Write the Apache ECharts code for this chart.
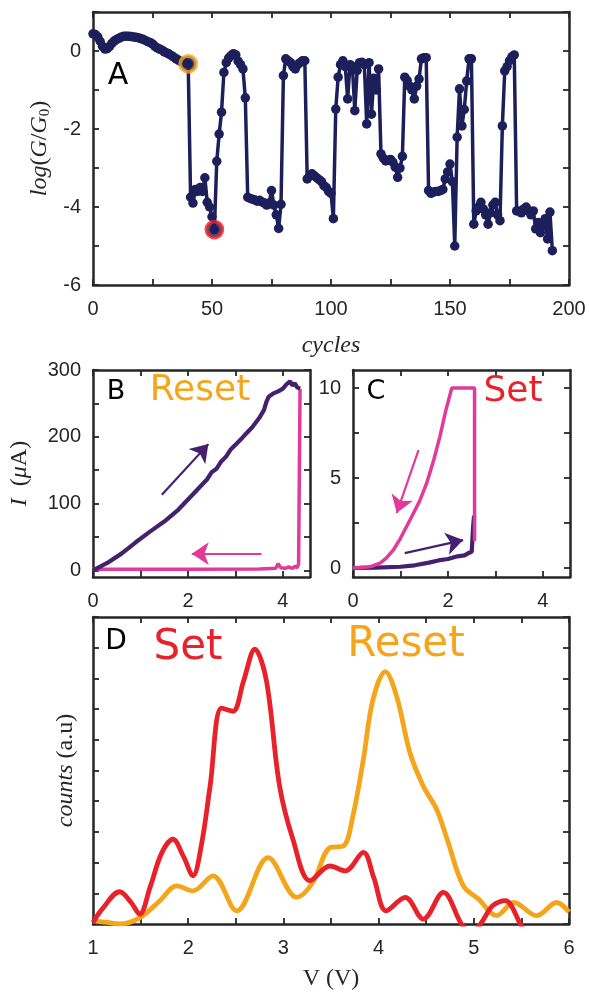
<!DOCTYPE html>
<html>
<head>
<meta charset="utf-8">
<script src="https://cdn.jsdelivr.net/npm/echarts@6/dist/echarts.min.js"></script>
<style>
  html, body { margin: 0; padding: 0; background: #fff; }
  #chart { width: 589px; height: 992px; }
</style>
</head>
<body>
<div id="chart"></div>
<script>
// ---- panel A: log(G/G0) per cycle (index = cycle) ----
const logG = [
  0.44, 0.42, 0.36, 0.25, 0.12, 0.05, 0.06, 0.12, 0.2, 0.26,
  0.3, 0.33, 0.36, 0.38, 0.38, 0.38, 0.37, 0.36, 0.35, 0.34,
  0.32, 0.3, 0.27, 0.24, 0.22, 0.18, 0.12, 0.08, 0.05, 0.02,
  -0.02, -0.05, -0.08, -0.12, -0.16, -0.2, -0.24, -0.27, -0.29, -0.31,
  -0.33, -3.75, -3.9, -3.55, -3.6, -3.5, -3.6, -3.25, -3.88, -4.0,
  -4.25, -4.58, -2.83, -2.13, -1.57, -0.55, -0.3, -0.18, -0.12, -0.07,
  -0.1, -0.26, -0.35, -0.46, -1.2, -3.75, -3.78, -3.8, -3.82, -3.85,
  -3.83, -3.87, -3.9, -3.95, -3.9, -3.58, -3.95, -4.2, -4.55, -3.93,
  -0.63, -0.2, -0.25, -0.3, -0.4, -0.46, -0.35, -0.3, -0.25, -0.25,
  -3.28, -3.2, -3.15, -3.2, -3.25, -3.3, -3.35, -3.45, -3.5, -3.6,
  -3.65, -4.3, -1.49, -0.67, -0.35, -0.25, -0.4, -1.23, -0.35, -0.4,
  -1.53, -0.5, -0.3, -0.29, -0.35, -1.87, -0.3, -1.62, -0.7, -1.0,
  -0.46, -2.64, -2.75, -2.82, -2.8, -2.78, -2.85, -2.98, -3.24, -3.0,
  -2.7, -0.67, -0.75, -0.9, -1.0, -1.23, -0.9, -0.72, -0.2, -0.17,
  -0.17, -3.58, -3.65, -3.62, -3.6, -3.6, -3.58, -3.55, -3.28, -3.1,
  -2.9, -3.35, -5.0, -2.21, -0.97, -1.92, -1.5, -0.77, -0.2, -0.2,
  -4.44, -4.1, -4.0, -3.88, -4.05, -4.2, -4.44, -4.15, -3.95, -3.88,
  -4.2, -4.35, -1.92, -0.51, -0.4, -0.25, -0.15, -0.1, -4.1, -4.1,
  -4.15, -4.05, -4.0, -4.1, -4.2, -4.1, -4.56, -4.4, -4.66, -4.5,
  -4.3, -4.82, -4.13, -5.12
];
const resetCycle = 40; // orange ring
const setCycle = 51;   // red ring

// ---- panel B: reset I-V (V, uA) ----
const resetUpV = [0, 0.3, 0.6, 0.9, 1.2, 1.5, 1.8, 2.0, 2.2, 2.4, 2.5, 2.6, 2.7, 2.8, 2.9, 3.0, 3.1, 3.2, 3.35, 3.5, 3.6, 3.65, 3.7, 3.8, 3.9, 4.0, 4.08, 4.15, 4.2, 4.25, 4.3, 4.36];
const resetUpI = [0, 11, 25, 42, 58, 73, 91, 106, 121, 136, 147, 152, 163, 170, 181, 188, 195, 203, 214, 228, 240, 252, 260, 265, 268, 272, 279, 283, 277, 280, 274, 272];
const resetDownV = [4.36, 4.33, 4.3, 4.25, 4.2, 4.12, 4.05, 3.95, 3.9, 3.85, 3.5, 2.0, 0];
const resetDownI = [272, 10, 4, 6, 3, 5, 3, 4, 10, 3, 2, 1.5, 1.5];
const arrowB = [
  { from: [1.45, 113], to: [2.43, 189], color: 'up' },
  { from: [3.55, 25], to: [2.08, 25], color: 'down' }
];

// ---- panel C: set I-V (V, uA) ----
const setUpV = [0, 0.5, 1.0, 1.3, 1.6, 1.8, 2.0, 2.2, 2.35, 2.45, 2.5, 2.53, 2.53, 2.55, 2.53];
const setUpI = [0, 0.02, 0.07, 0.15, 0.3, 0.42, 0.5, 0.65, 0.7, 0.85, 0.9, 1.0, 2.3, 2.9, 1.6];
const setDownV = [2.56, 2.56, 2.08, 1.95, 1.83, 1.7, 1.55, 1.4, 1.2, 1.0, 0.85, 0.7, 0.57, 0.4, 0.29, 0];
const setDownI = [1.5, 10, 10, 8.7, 7.3, 6.0, 4.7, 3.7, 2.67, 1.65, 1.0, 0.55, 0.27, 0.1, 0.05, 0];
const arrowC = [
  { from: [1.38, 6.55], to: [0.92, 3.05], color: 'down' },
  { from: [1.09, 0.83], to: [2.32, 1.55], color: 'up' }
];

// ---- panel D: voltage histograms ----
const histSetV = [1.0, 1.1, 1.28, 1.4, 1.49, 1.6, 1.72, 1.84, 1.95, 2.05, 2.14, 2.23, 2.35, 2.47, 2.58, 2.7, 2.82, 2.96, 3.1, 3.28, 3.49, 3.65, 3.84, 3.95, 4.08, 4.28, 4.47, 4.68, 4.87, 4.97, 5.07, 5.2, 5.33, 5.49, 5.6];
const histSetC = [0.05, 0.5, 1.05, 0.7, 0.32, 1.2, 2.3, 2.76, 2.2, 1.57, 2.6, 4.49, 7.03, 6.93, 7.9, 8.95, 7.95, 4.49, 2.76, 1.41, 1.89, 1.73, 2.33, 1.5, 0.43, 0.87, 0.16, 1.03, 0.0, -0.3, 0.0, 0.6, 0.76, 0.0, -0.6];
const histResetV = [1.0, 1.15, 1.28, 1.49, 1.7, 1.88, 2.05, 2.26, 2.51, 2.84, 3.14, 3.31, 3.49, 3.63, 3.73, 3.84, 3.94, 4.07, 4.19, 4.33, 4.47, 4.61, 4.72, 4.89, 5.05, 5.24, 5.42, 5.66, 5.87, 6.0];
const histResetC = [0.1, 0.05, 0.0, 0.2, 0.75, 1.24, 1.08, 1.57, 0.43, 2.16, 0.87, 1.36, 2.49, 2.54, 3.52, 5.36, 7.3, 8.22, 7.41, 5.57, 4.49, 3.73, 2.76, 1.24, 0.81, 0.27, 0.7, 0.27, 0.7, 0.39];

// colours
const ink = '#262626';
const navy = '#1d1f5b';
const orange = '#f5a51c';
const red = '#e8222a';
const purple = '#44216f';
const magenta = '#e23a9b';

const zip = (a, b) => a.map((v, i) => [v, b[i]]);

const tickFont = { fontFamily: 'Liberation Sans', fontSize: 20, color: ink };
const serif = 'Liberation Serif';

let xAxis = [];
let yAxis = [];

// builds a closed MATLAB-like box: bottom/top x axes and left/right y axes
function addBox(grid, xc, yc) {
  const line = { onZero: false, lineStyle: { color: ink, width: 2.5 } };
  const tick = (vals) => ({ inside: true, length: 6, customValues: vals, lineStyle: { color: ink, width: 1.8 } });
  xAxis.push({
    gridIndex: grid, type: 'value', position: 'bottom', min: xc.min, max: xc.max,
    axisLine: line, axisTick: tick(xc.ticks), splitLine: { show: false },
    axisLabel: Object.assign({ customValues: xc.labels, margin: 14 }, tickFont),
    name: xc.name || '', nameLocation: 'middle', nameGap: xc.nameGap || 30,
    nameTextStyle: xc.nameStyle || {}
  });
  xAxis.push({
    gridIndex: grid, type: 'value', position: 'top', min: xc.min, max: xc.max,
    axisLine: line, axisTick: tick(xc.ticks), splitLine: { show: false },
    axisLabel: { show: false }
  });
  yAxis.push({
    gridIndex: grid, type: 'value', position: 'left', min: yc.min, max: yc.max,
    axisLine: line, axisTick: tick(yc.ticks), splitLine: { show: false },
    axisLabel: yc.labels ? Object.assign({ customValues: yc.labels, margin: 12 }, tickFont) : { show: false },
    name: yc.name || '', nameLocation: 'middle', nameGap: yc.nameGap || 30,
    nameTextStyle: yc.nameStyle || {}
  });
  yAxis.push({
    gridIndex: grid, type: 'value', position: 'right', min: yc.min, max: yc.max,
    axisLine: line, axisTick: tick(yc.ticks), splitLine: { show: false },
    axisLabel: { show: false }
  });
}

const richName = {
  i: { fontFamily: serif, fontStyle: 'italic', fontSize: 24, color: ink, lineHeight: 30 },
  r: { fontFamily: serif, fontSize: 24, color: ink, lineHeight: 30 },
  s: { fontFamily: serif, fontSize: 15, color: ink, lineHeight: 30, padding: [10, 0, 0, 0] }
};

// A
addBox(0,
  { min: 0, max: 200, ticks: [0, 25, 50, 75, 100, 125, 150, 175, 200], labels: [0, 50, 100, 150, 200],
    name: '{i|cycles}', nameGap: 46, nameStyle: { rich: richName } },
  { min: -6, max: 1, ticks: [-6, -5, -4, -3, -2, -1, 0, 1], labels: [-6, -4, -2, 0],
    name: '{i|log}{r|(}{i|G}{r|/}{i|G}{s|0}{r|)}', nameGap: 38, nameStyle: { rich: richName } });
// B
addBox(1,
  { min: 0, max: 4.57, ticks: [0, 1, 2, 3, 4], labels: [0, 2, 4] },
  { min: -10, max: 300, ticks: [0, 50, 100, 150, 200, 250, 300], labels: [0, 100, 200, 300],
    name: '{i|I}{r|\u2002(}{i|μ}{r|A)}', nameGap: 58, nameStyle: { rich: richName } });
// C
addBox(2,
  { min: 0, max: 4.57, ticks: [0, 1, 2, 3, 4], labels: [0, 2, 4] },
  { min: -0.5, max: 11, ticks: [0, 2.5, 5, 7.5, 10], labels: [0, 5, 10] });
// D
addBox(3,
  { min: 1, max: 6, ticks: [1, 1.5, 2, 2.5, 3, 3.5, 4, 4.5, 5, 5.5, 6], labels: [1, 2, 3, 4, 5, 6],
    name: '{r|V (V)}', nameGap: 40, nameStyle: { rich: richName } },
  { min: 0, max: 10, ticks: [0, 1, 2, 3, 4, 5, 6, 7, 8, 9, 10], labels: null,
    name: '{i|counts }{r|(a.u)}', nameGap: 12, nameStyle: { rich: richName } });

function arrowSeries(list, xi, yi) {
  return list.map(a => ({
    type: 'lines', coordinateSystem: 'cartesian2d', xAxisIndex: xi, yAxisIndex: yi,
    symbol: ['none', 'arrow'], symbolSize: 17, z: 5,
    lineStyle: { color: a.color === 'up' ? purple : magenta, width: 2.2, opacity: 1 },
    data: [{ coords: [a.from, a.to] }]
  }));
}

const text = (t, x, y, color, size) => ({
  type: 'text', x: x, y: y, z: 100,
  style: { text: t, fill: color, font: size + 'px "DejaVu Sans"', align: 'center', verticalAlign: 'middle' }
});

const option = {
  backgroundColor: '#fff',
  animation: false,
  grid: [
    { left: 93, top: 12, width: 476, height: 273 },
    { left: 93, top: 370, width: 217, height: 207 },
    { left: 353, top: 370, width: 217, height: 207 },
    { left: 93, top: 617, width: 476, height: 308 }
  ],
  xAxis: xAxis,
  yAxis: yAxis,
  series: [
    {
      type: 'line', xAxisIndex: 0, yAxisIndex: 0,
      data: logG.map((v, i) => [i, v]),
      symbol: 'circle', symbolSize: 9.5, showAllSymbol: true,
      lineStyle: { color: navy, width: 3.5 }, itemStyle: { color: navy }
    },
    {
      type: 'scatter', xAxisIndex: 0, yAxisIndex: 0, z: 4,
      data: [[resetCycle, logG[resetCycle]]], symbolSize: 16,
      itemStyle: { color: navy, borderColor: orange, borderWidth: 3.8 }
    },
    {
      type: 'scatter', xAxisIndex: 0, yAxisIndex: 0, z: 4,
      data: [[setCycle, logG[setCycle]]], symbolSize: 16,
      itemStyle: { color: navy, borderColor: red, borderWidth: 3.8 }
    },
    {
      type: 'line', xAxisIndex: 2, yAxisIndex: 2, data: zip(resetDownV, resetDownI),
      symbol: 'none', lineStyle: { color: magenta, width: 3.5 }
    },
    {
      type: 'line', xAxisIndex: 2, yAxisIndex: 2, data: zip(resetUpV, resetUpI),
      symbol: 'none', lineStyle: { color: purple, width: 4.2 }
    },
    ...arrowSeries(arrowB, 2, 2),
    {
      type: 'line', xAxisIndex: 4, yAxisIndex: 4, data: zip(setUpV, setUpI),
      symbol: 'none', lineStyle: { color: purple, width: 4.2 }
    },
    {
      type: 'line', xAxisIndex: 4, yAxisIndex: 4, data: zip(setDownV, setDownI),
      symbol: 'none', lineStyle: { color: magenta, width: 3.5 }
    },
    ...arrowSeries(arrowC, 4, 4),
    {
      type: 'line', xAxisIndex: 6, yAxisIndex: 6, data: zip(histResetV, histResetC),
      symbol: 'none', smooth: 0.35, lineStyle: { color: orange, width: 4.8 }
    },
    {
      type: 'line', xAxisIndex: 6, yAxisIndex: 6, data: zip(histSetV, histSetC),
      symbol: 'none', smooth: 0.35, lineStyle: { color: red, width: 4.8 }
    }
  ],
  graphic: [
    text('A', 118, 76, '#000', 30),
    text('B', 116, 392, '#000', 27),
    text('Reset', 200, 391, orange, 36),
    text('C', 376, 392, '#000', 27),
    text('Set', 513, 392, red, 36),
    text('D', 116, 642, '#000', 28),
    text('Set', 188, 648, red, 42),
    text('Reset', 406, 645, orange, 42)
  ]
};

const myChart = echarts.init(document.getElementById('chart'));
myChart.setOption(option);
</script>
</body>
</html>
